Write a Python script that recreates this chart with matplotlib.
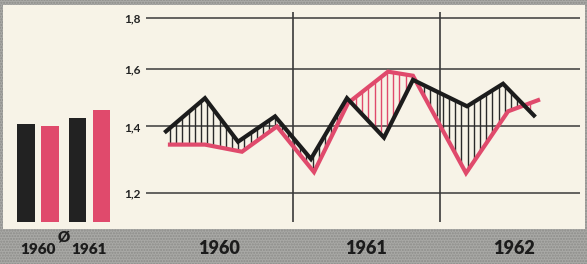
import numpy as np
import matplotlib
matplotlib.use("Agg")
import matplotlib.pyplot as plt
from matplotlib.patches import Rectangle
import matplotlib.transforms as mtrans

# ---------------- data ----------------
black_x = [1960.136, 1960.401, 1960.626, 1960.878, 1961.122, 1961.367,
           1961.619, 1961.816, 1962.184, 1962.429, 1962.639]
black_y = [1.384, 1.495, 1.351, 1.433, 1.298, 1.495,
           1.364, 1.560, 1.467, 1.546, 1.436]
red_x = [1960.163, 1960.401, 1960.653, 1960.891, 1961.143, 1961.374,
         1961.646, 1961.816, 1962.177, 1962.463, 1962.667]
red_y = [1.342, 1.342, 1.320, 1.400, 1.259, 1.478,
         1.590, 1.575, 1.256, 1.450, 1.488]

avg_years = ["1960", "1961"]
avg_black = [1.407, 1.427]
avg_red = [1.400, 1.453]

year_labels = ["1960", "1961", "1962"]
year_starts = [1960, 1961, 1962]
y_ticks = [1.2, 1.4, 1.6, 1.8]
y_ticklabels = ["1,2", "1,4", "1,6", "1,8"]

# ---------------- style ----------------
CREAM = "#f7f3e7"
BAND = "#a9a9a6"
BLACK = "#1c1c1c"
RED = "#e04a6c"
GRID = "#3a3a3a"
FONT = "Lato"

W, H = 587, 264
fig = plt.figure(figsize=(W / 100, H / 100), dpi=100, facecolor=CREAM)

def fx(px):
    return px / W

def fy(py):
    return 1 - py / H

# textured gray borders
for (x0, y0, x1, y1) in [(0, 229, W, H), (0, 0, W, 5), (0, 0, 3, H), (585, 0, W, H)]:
    fig.patches.append(Rectangle((fx(x0), fy(y1)), fx(x1) - fx(x0), fy(y0) - fy(y1),
                                 transform=fig.transFigure, facecolor=BAND,
                                 edgecolor="#8c8c89", hatch="......", linewidth=0,
                                 zorder=-5))

YMIN, YMAX = 1.121, 1.8266
ax_bottom = fy(222)
ax_height = fy(12) - fy(222)

# ---------------- main axes ----------------
ax = fig.add_axes([fx(146), ax_bottom, fx(580) - fx(146), ax_height])
ax.set_facecolor("none")
ax.set_yscale("log")
ax.set_xlim(1960.0, 1960.0 + (580 - 146) / 147)
ax.set_ylim(YMIN, YMAX)
for s in ax.spines.values():
    s.set_visible(False)
ax.set_xticks([])
ax.set_yticks(y_ticks)
ax.set_yticklabels(y_ticklabels, fontfamily=FONT, fontweight="bold",
                   fontsize=8.5, color="#222222")
ax.yaxis.set_minor_locator(matplotlib.ticker.NullLocator())
ax.tick_params(axis="y", length=0, pad=4)

for v in y_ticks:
    ax.axhline(v, color=GRID, lw=1.1, zorder=1)
for yr in year_starts[1:]:
    ax.axvline(yr, color=GRID, lw=1.2, zorder=1)

# vertical hatching between the two curves
hx0 = max(black_x[0], red_x[0])
hx1 = min(black_x[-1], red_x[-1])
hx = np.arange(hx0, hx1, 6.2 / 147)
bb = np.interp(hx, black_x, black_y)
rr = np.interp(hx, red_x, red_y)
for x, b, r in zip(hx, bb, rr):
    col = "#2a2a2a" if b >= r else RED
    ax.plot([x, x], [min(b, r), max(b, r)], color=col, lw=1.0, zorder=2,
            solid_capstyle="butt")

ax.plot(red_x, red_y, color=RED, lw=3.0, zorder=3, solid_joinstyle="miter")
ax.plot(black_x, black_y, color=BLACK, lw=3.0, zorder=4, solid_joinstyle="miter")

tr_main = mtrans.blended_transform_factory(ax.transData, fig.transFigure)
for lab, yr in zip(year_labels, year_starts):
    ax.text(yr + 0.5, fy(249), lab, transform=tr_main, clip_on=False,
            ha="center", va="center", fontfamily=FONT, fontweight="heavy",
            fontsize=13, color=BLACK, zorder=10)

# ---------------- average bars ----------------
bax = fig.add_axes([0, ax_bottom, fx(130), ax_height])
bax.set_facecolor("none")
bax.set_yscale("log")
bax.set_ylim(YMIN, YMAX)
u = 25.0
bax.set_xlim(-26 / u, (130 - 26) / u)
bax.axis("off")
pos_black = [0.0, 2.06]
pos_red = [0.98, 3.02]
bw = 18 / u
bax.bar(pos_black, [v - 1.0 for v in avg_black], bottom=1.0, width=bw,
        color="#222222", zorder=2)
bax.bar(pos_red, [v - 1.0 for v in avg_red], bottom=1.0, width=bw,
        color=RED, zorder=2)

tr = mtrans.blended_transform_factory(bax.transData, fig.transFigure)
for lab, pb, pr in zip(avg_years, pos_black, pos_red):
    bax.text((pb + pr) / 2, fy(249), lab, transform=tr, clip_on=False,
             ha="center", va="center", fontfamily=FONT, fontweight="heavy",
             fontsize=11, color=BLACK, zorder=10)
bax.text((pos_red[0] + pos_black[1]) / 2, fy(237), "Ø", transform=tr,
         clip_on=False, ha="center", va="center", fontfamily=FONT,
         fontweight="heavy", fontsize=11, color=BLACK, zorder=10)

fig.savefig("out.png", dpi=100, facecolor=CREAM)
